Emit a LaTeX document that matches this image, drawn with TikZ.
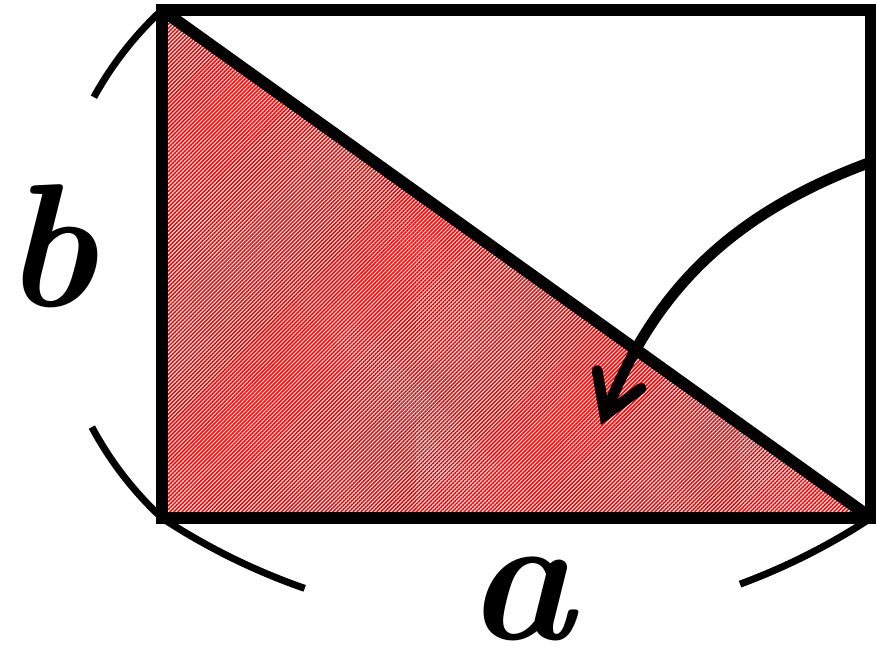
\documentclass[tikz,border=0pt]{standalone}
\usepackage{tikz}
\usetikzlibrary{arrows.meta}
\usetikzlibrary{patterns.meta}

\begin{document}
\begin{tikzpicture}[x=0.02cm,y=0.02cm,
    frame/.style={line width=6.8pt},
    bracearc/.style={line width=4pt},
    turn/.style={line width=6.2pt,-{Straight Barb[length=22pt,width=27pt,line cap=round]}},
    letter/.style={inner sep=0pt,anchor=base,font=\fontsize{#1}{#1}\selectfont\bfseries\itshape}]
        \useasboundingbox (0,0) rectangle (876,658);
        \coordinate (tl) at (162,648);
        \coordinate (bl) at (162,140);
        \coordinate (br) at (871,140);
        \fill[pattern={Lines[angle=45,distance=1.6pt,line width=0.9pt]},pattern color=red] (tl)--(bl)--(br)--cycle;
        \draw[frame] (tl) rectangle (br);
        \draw[frame] (tl)--(br);
        \coordinate (start) at (871,496);
        \coordinate (tip) at (601,233);
        \draw[turn] (start) to[bend right=24] (tip);
        \draw[bracearc] (tl) arc (132.8:151.2:346);
        \draw[bracearc] (bl) arc (227.2:208.1:346);
        \draw[bracearc] (bl) arc (236.7:250.8:648);
        \draw[bracearc] (br) arc (303.3:290.3:648);
        \node[letter=100] (b) at (50,351) {b};
        \node[letter=104] (a) at (520,18) {a};
    \end{tikzpicture}
\end{document}
